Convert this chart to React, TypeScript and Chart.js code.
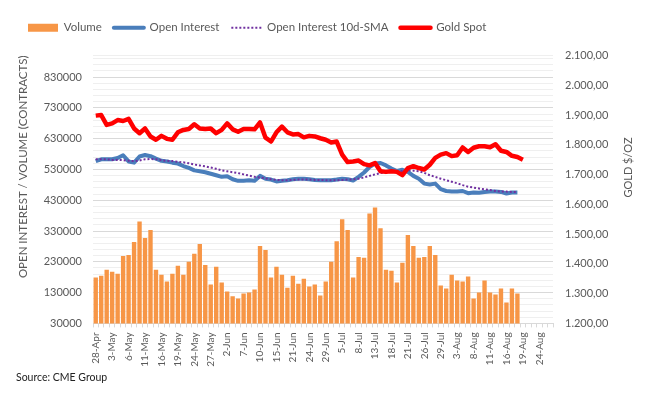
import React, { useEffect, useRef } from 'react';
import { Chart, registerables } from 'chart.js';

Chart.register(...registerables);

const categories = [
  '28-Apr', '29-Apr',
  '2-May', '3-May', '4-May', '5-May', '6-May', '9-May', '10-May', '11-May', '12-May', '13-May',
  '16-May', '17-May', '18-May', '19-May', '20-May', '23-May', '24-May', '25-May', '26-May', '27-May', '31-May',
  '1-Jun', '2-Jun', '3-Jun', '6-Jun', '7-Jun', '8-Jun', '9-Jun', '10-Jun', '13-Jun', '14-Jun', '15-Jun',
  '16-Jun', '17-Jun', '21-Jun', '22-Jun', '23-Jun', '24-Jun', '27-Jun', '28-Jun', '29-Jun', '30-Jun',
  '1-Jul', '5-Jul', '6-Jul', '7-Jul', '8-Jul', '11-Jul', '12-Jul', '13-Jul', '14-Jul', '15-Jul',
  '18-Jul', '19-Jul', '20-Jul', '21-Jul', '22-Jul', '25-Jul', '26-Jul', '27-Jul', '28-Jul', '29-Jul',
  '1-Aug', '2-Aug', '3-Aug', '4-Aug', '5-Aug', '8-Aug', '9-Aug', '10-Aug', '11-Aug', '12-Aug',
  '15-Aug', '16-Aug', '17-Aug', '18-Aug', '19-Aug', '22-Aug', '23-Aug', '24-Aug', '25-Aug', '26-Aug',
];

const volume = [
  179000, 185000, 204000, 198000, 191000, 249000, 252000, 294000, 361000, 307000,
  333000, 204000, 188000, 166000, 191000, 217000, 188000, 230000, 256000, 288000,
  220000, 156000, 214000, 163000, 134000, 118000, 111000, 127000, 130000, 140000,
  281000, 268000, 179000, 214000, 188000, 146000, 185000, 159000, 175000, 150000,
  156000, 121000, 166000, 230000, 297000, 368000, 333000, 179000, 246000, 243000,
  387000, 406000, 339000, 204000, 201000, 163000, 227000, 317000, 281000, 243000,
  246000, 281000, 252000, 153000, 143000, 188000, 169000, 166000, 182000, 111000,
  130000, 169000, 130000, 124000, 143000, 98000, 143000, 127000,
];

const openInterest = [
  557000, 563000, 563000, 563000, 567000, 576000, 556000, 552000, 572000, 577000,
  573000, 565000, 558000, 556000, 552000, 549000, 541000, 535000, 527000, 524000,
  521000, 516000, 511000, 506000, 508000, 498000, 493000, 493000, 495000, 493000,
  509000, 500000, 497000, 491000, 493000, 495000, 498000, 500000, 500000, 498000,
  496000, 495000, 495000, 495000, 497000, 500000, 498000, 494000, 506000, 520000,
  538000, 549000, 551000, 543000, 533000, 525000, 529000, 522000, 509000, 500000,
  484000, 481000, 484000, 466000, 460000, 458000, 458000, 460000, 453000, 455000,
  454000, 457000, 458000, 458000, 457000, 452000, 455000, 455000,
];

const openInterestSma10 = [
  563000, 563000, 563000, 561000, 561000, 560000, 558000, 557000, 559000, 563000,
  564000, 563000, 560000, 558000, 557000, 555000, 553000, 550000, 546000, 543000,
  540000, 536000, 532000, 527000, 524000, 521000, 518000, 514000, 510000, 506000,
  504000, 501000, 498000, 496000, 495000, 495000, 496000, 497000, 497000, 497000,
  496000, 496000, 495000, 495000, 495000, 496000, 497000, 498000, 500000, 504000,
  509000, 514000, 518000, 520000, 522000, 524000, 525000, 527000, 526000, 524000,
  519000, 511000, 506000, 500000, 495000, 490000, 485000, 479000, 474000, 471000,
  468000, 465000, 463000, 460000, 458000, 458000, 457000, 457000,
];

const goldSpot = [
  1898, 1900, 1867, 1872, 1883, 1880, 1887, 1855, 1839, 1855,
  1828, 1817, 1830, 1820, 1817, 1842, 1850, 1853, 1869, 1855,
  1853, 1855, 1839, 1850, 1872, 1852, 1844, 1853, 1853, 1852,
  1875, 1824, 1811, 1842, 1861, 1842, 1835, 1836, 1825, 1830,
  1828, 1822, 1817, 1808, 1811, 1767, 1742, 1744, 1747, 1735,
  1731, 1739, 1711, 1709, 1711, 1709, 1698, 1722, 1728, 1722,
  1717, 1733, 1756, 1767, 1772, 1762, 1765, 1791, 1776, 1790,
  1795, 1795, 1792, 1802, 1780, 1776, 1763, 1759, 1750,
];

const leftMin = 30000;
const leftMax = 900000;
const leftMajorStep = 100000;
const leftMinorStep = 20000;
const leftLabelMax = 830000;
const rightMin = 1200;
const rightMax = 2100;
const rightStep = 100;

const ORANGE = '#F79646';
const BLUE = '#4A7EBB';
const PURPLE = '#7030A0';
const RED = '#FF0000';
const TEXT = '#595959';
const FONT = 'Lato';

const fmtGold = (v: number) =>
  Math.round(v).toString().replace(/\B(?=(\d{3})+(?!\d))/g, '.') + ',00';

const isMajor = (v: number) => Math.abs((v - leftMin) % leftMajorStep) < 1;

const legendSpacerPlugin = {
  id: 'legendSpacer',
  beforeInit(chart: any) {
    const legend = chart.legend;
    if (!legend) return;
    const origFit = legend.fit;
    legend.fit = function (this: any) {
      origFit.call(this);
      this.height += 12;
    };
  },
};

const rightTitlePlugin = {
  id: 'rightTitle',
  afterDraw(chart: any) {
    const { ctx, chartArea } = chart;
    ctx.save();
    ctx.font = `11px ${FONT}`;
    ctx.fillStyle = TEXT;
    ctx.textAlign = 'center';
    ctx.textBaseline = 'middle';
    ctx.translate(chart.width - 20, chartArea.top + 112);
    ctx.rotate(-Math.PI / 2);
    ctx.fillText('GOLD $/OZ', 0, 0);
    ctx.restore();
  },
};

export default function App() {
  const ref = useRef<HTMLCanvasElement>(null);

  useEffect(() => {
    if (!ref.current) return;
    const chart = new Chart(ref.current, {
      type: 'bar',
      data: {
        labels: categories,
        datasets: [
          {
            type: 'bar',
            label: 'Volume',
            data: volume,
            backgroundColor: ORANGE,
            yAxisID: 'y',
            order: 4,
            barPercentage: 0.8,
            categoryPercentage: 1,
          } as any,
          {
            type: 'line',
            label: 'Open Interest',
            data: openInterest,
            borderColor: BLUE,
            backgroundColor: BLUE,
            borderWidth: 4,
            pointRadius: 0,
            borderJoinStyle: 'round',
            yAxisID: 'y',
            order: 3,
          },
          {
            type: 'line',
            label: 'Open Interest 10d-SMA',
            data: openInterestSma10,
            borderColor: PURPLE,
            backgroundColor: PURPLE,
            borderWidth: 2,
            borderDash: [2, 2],
            pointRadius: 0,
            yAxisID: 'y',
            order: 2,
          },
          {
            type: 'line',
            label: 'Gold Spot',
            data: goldSpot,
            borderColor: RED,
            backgroundColor: RED,
            borderWidth: 4.5,
            pointRadius: 0,
            borderJoinStyle: 'round',
            yAxisID: 'y1',
            order: 1,
          },
        ],
      },
      options: {
        responsive: true,
        maintainAspectRatio: false,
        animation: false,
        layout: { padding: { left: 8, right: 0, top: 2, bottom: 0 } },
        plugins: {
          legend: {
            position: 'top',
            align: 'start',
            labels: {
              usePointStyle: true,
              pointStyleWidth: 30,
              boxHeight: 8,
              padding: 12,
              color: TEXT,
              font: { family: FONT, size: 11.5 },
              generateLabels: () => [
                { text: 'Volume', fillStyle: ORANGE, strokeStyle: ORANGE, lineWidth: 0, pointStyle: 'rect', fontColor: TEXT, hidden: false, datasetIndex: 0 },
                { text: 'Open Interest', fillStyle: BLUE, strokeStyle: BLUE, lineWidth: 4, lineCap: 'round', pointStyle: 'line', fontColor: TEXT, hidden: false, datasetIndex: 1 },
                { text: 'Open Interest 10d-SMA', fillStyle: PURPLE, strokeStyle: PURPLE, lineWidth: 2, lineDash: [2, 2], pointStyle: 'line', fontColor: TEXT, hidden: false, datasetIndex: 2 },
                { text: 'Gold Spot', fillStyle: RED, strokeStyle: RED, lineWidth: 4.5, lineCap: 'round', pointStyle: 'line', fontColor: TEXT, hidden: false, datasetIndex: 3 },
              ] as any,
            },
          },
          title: {
            display: true,
            position: 'bottom',
            align: 'start',
            text: 'Source: CME Group',
            color: '#222222',
            font: { family: FONT, size: 10.5, weight: 'normal' },
            padding: { top: 4, bottom: 4 },
          },
          tooltip: { enabled: false },
        },
        scales: {
          x: {
            grid: { drawOnChartArea: false, drawTicks: true, tickLength: 4, color: '#D9D9D9' },
            border: { color: '#D9D9D9' },
            ticks: {
              autoSkip: false,
              minRotation: 90,
              maxRotation: 90,
              padding: 5,
              color: TEXT,
              font: { family: FONT, size: 10 },
              callback: (_v: any, i: number) => (i % 3 === 0 ? categories[i] : ''),
            },
            afterFit: (s: any) => {
              s.height = 44;
            },
          },
          y: {
            position: 'left',
            min: leftMin,
            max: leftMax,
            afterBuildTicks: (s: any) => {
              const t: { value: number }[] = [];
              for (let v = leftMin; v < leftMax; v += leftMinorStep) t.push({ value: v });
              t.push({ value: leftMax });
              s.ticks = t;
            },
            grid: {
              drawTicks: false,
              color: (c: any) => (c.tick && isMajor(c.tick.value) ? '#D9D9D9' : '#EFEFEF'),
            },
            border: { display: false },
            ticks: {
              autoSkip: false,
              padding: 11,
              color: TEXT,
              font: { family: FONT, size: 11 },
              callback: (v: any) => (isMajor(v) && v <= leftLabelMax ? String(v) : ''),
            },
            title: {
              display: true,
              text: 'OPEN INTEREST / VOLUME (CONTRACTS)',
              align: 'end',
              color: TEXT,
              font: { family: FONT, size: 11.5 },
              padding: 0,
            },
            afterFit: (s: any) => {
              s.width = 77;
            },
          },
          y1: {
            position: 'right',
            min: rightMin,
            max: rightMax,
            grid: { drawOnChartArea: false, drawTicks: false },
            border: { display: false },
            ticks: {
              stepSize: rightStep,
              autoSkip: false,
              padding: 12,
              color: TEXT,
              font: { family: FONT, size: 11 },
              callback: (v: any) => fmtGold(Number(v)),
            },
            afterFit: (s: any) => {
              s.width = 95;
            },
          },
        },
      } as any,
      plugins: [legendSpacerPlugin, rightTitlePlugin],
    });
    return () => chart.destroy();
  }, []);

  return (
    <div style={{ position: 'relative', width: 640, height: 380 }}>
      <canvas ref={ref} />
    </div>
  );
}
